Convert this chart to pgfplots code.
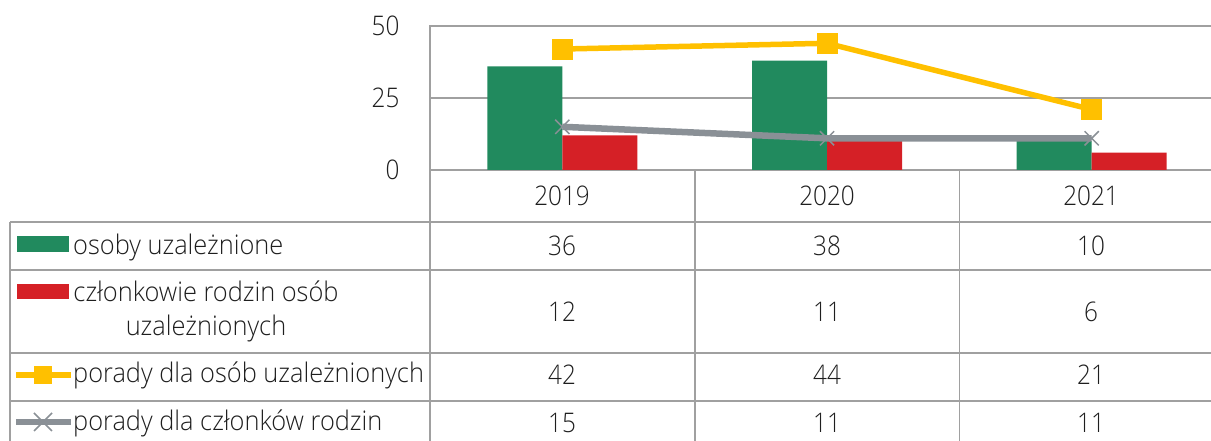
\documentclass[border=0pt]{standalone}
\usepackage{pgfplots}
\pgfplotsset{compat=1.18}
\usepackage{fontspec}
\IfFontExistsTF{Open Sans Light}{%
  \setmainfont{Open Sans Light}[FakeStretch=0.9]%
  \newfontfamily\labelfamily{Open Sans Light}[FakeStretch=0.94]}{%
  \setmainfont{Open Sans}[FakeStretch=0.89]%
  \newfontfamily\labelfamily{Open Sans}[FakeStretch=0.93]}
\definecolor{cgreen}{RGB}{33,138,94}
\definecolor{cred}{RGB}{213,32,38}
\definecolor{cyellow}{RGB}{255,192,0}
\definecolor{cgrayl}{RGB}{138,144,150}
\definecolor{cline}{RGB}{160,160,160}
\definecolor{ctext}{RGB}{30,30,30}
\newcommand\chartfont{\fontsize{27}{32}\selectfont}
\newcommand\labelfont{\labelfamily\fontsize{27}{32}\selectfont}
\begin{document}
\begin{tikzpicture}[x=1pt,y=1pt]
\useasboundingbox (0,0) rectangle (1211,441);
\begin{scope}
\clip (0,0) rectangle (1211,441);
\begin{axis}[
  at={(430pt,271pt)}, anchor=south west,
  width=794pt, height=144pt, scale only axis,
  xmin=-0.5, xmax=2.5, ymin=0, ymax=50,
  xtick=\empty,
  ytick={0,25,50}, yticklabels={0,25,50},
  major tick length=0pt,
  ymajorgrids, grid style={cline, line width=1.6pt},
  axis line style={cline, line width=1.6pt},
  yticklabel style={font=\chartfont, text=ctext, xshift=-27pt},
]
\addplot[ybar, bar width=75pt, bar shift=-37.5pt, fill=cgreen, draw=none] coordinates {(0,36) (1,38) (2,10)};
\addplot[ybar, bar width=75pt, bar shift=37.5pt, fill=cred, draw=none] coordinates {(0,12) (1,11) (2,6)};
\addplot[cgrayl, line width=6.5pt, mark=x, mark size=10pt, mark options={line width=1.5pt}] coordinates {(0,15) (1,11) (2,11)};
\addplot[cyellow, line width=5.5pt, mark=square*, mark size=10pt, mark options={line width=0pt}] coordinates {(0,42) (1,44) (2,21)};
\end{axis}
\end{scope}
% table grid
\begin{scope}[cline, line width=1.6pt]
\draw (10,219) -- (1211,219);
\draw (10,171) -- (1211,171);
\draw (10,88) -- (1211,88);
\draw (10,40) -- (1211,40);
\draw (10,219) -- (10,0);
\draw (430,271) -- (430,0);
\draw (694.7,271) -- (694.7,0);
\draw (959.3,271) -- (959.3,0);
\end{scope}
% legend keys
\fill[cgreen] (17,189) rectangle (69,205);
\fill[cred] (17,142) rectangle (69,157);
\draw[cyellow, line width=5.5pt] (16,66) -- (71,66);
\fill[cyellow] (34,57) rectangle (52,75);
\draw[cgrayl, line width=6pt] (16,19) -- (71,19);
\draw[cgrayl, line width=1.5pt] (34,10) -- (52,28) (34,28) -- (52,10);
% row labels
\begin{scope}[every node/.style={font=\labelfont, text=ctext, inner sep=0pt}]
\node[anchor=base west] at (73,186) {osoby uzależnione};
\node[anchor=base] at (206,139) {członkowie rodzin osób};
\node[anchor=base] at (206,105) {uzależnionych};
\node[anchor=base west] at (73,58) {porady dla osób uzależnionych};
\node[anchor=base west] at (73,10) {porady dla członków rodzin};
\end{scope}
\begin{scope}[every node/.style={font=\chartfont, text=ctext, inner sep=0pt}]
\node[anchor=base] at (562,235) {2019};
\node[anchor=base] at (827,235) {2020};
\node[anchor=base] at (1091,235) {2021};
\node[anchor=base] at (562,185) {36};
\node[anchor=base] at (827,185) {38};
\node[anchor=base] at (1091,185) {10};
\node[anchor=base] at (562,119) {12};
\node[anchor=base] at (827,119) {11};
\node[anchor=base] at (1091,119) {6};
\node[anchor=base] at (562,56) {42};
\node[anchor=base] at (827,56) {44};
\node[anchor=base] at (1091,56) {21};
\node[anchor=base] at (562,8) {15};
\node[anchor=base] at (827,8) {11};
\node[anchor=base] at (1091,8) {11};
\end{scope}
\end{tikzpicture}
\end{document}
